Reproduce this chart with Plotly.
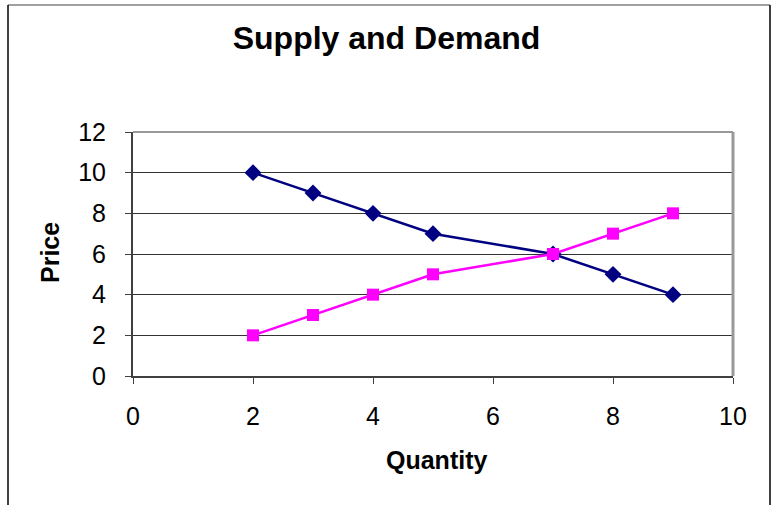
import plotly.graph_objects as go

demand_qty = [2, 3, 4, 5, 7, 8, 9]
demand_price = [10, 9, 8, 7, 6, 5, 4]
supply_qty = [2, 3, 4, 5, 7, 8, 9]
supply_price = [2, 3, 4, 5, 6, 7, 8]
x_ticks = [0, 2, 4, 6, 8, 10]
y_ticks = [0, 2, 4, 6, 8, 10, 12]

W, H = 773, 505
L, R, T, B = 133, 733, 132, 376

def px(x):
    return (x - L) / (R - L)

def py(y):
    return (B - y) / (B - T)

fig = go.Figure()
fig.add_trace(go.Scatter(
    x=demand_qty, y=demand_price, mode="lines+markers", name="Demand",
    line=dict(color="#000080", width=2.5),
    marker=dict(symbol="diamond", size=13, color="#000080"),
    cliponaxis=False,
))
fig.add_trace(go.Scatter(
    x=supply_qty, y=supply_price, mode="lines+markers", name="Supply",
    line=dict(color="#FF00FF", width=2.5),
    marker=dict(symbol="square", size=12, color="#FF00FF"),
    cliponaxis=False,
))

font = "Liberation Sans, Arial, sans-serif"

fig.update_layout(
    width=W, height=H,
    margin=dict(l=L, r=W - R, t=T, b=H - B, pad=0),
    paper_bgcolor="white", plot_bgcolor="white",
    showlegend=False,
    font=dict(family=font, size=25, color="black"),
    title=dict(text="<b>Supply and Demand</b>", x=0.5, xref="container",
               xanchor="center", y=1 - 38 / H, yref="container", yanchor="middle",
               font=dict(family=font, size=32, color="black")),
    xaxis=dict(range=[0, 10], tickvals=x_ticks, showgrid=False, zeroline=False,
               showline=True, linecolor="#404040", linewidth=2,
               ticks="outside", ticklen=6, tickcolor="#404040", tickwidth=1,
               ticklabelstandoff=11, tickfont=dict(size=25)),
    yaxis=dict(range=[0, 12], tickvals=y_ticks, showgrid=True, gridcolor="#333333",
               gridwidth=1, zeroline=False,
               showline=True, linecolor="#404040", linewidth=2,
               ticks="outside", ticklen=6, tickcolor="#404040", tickwidth=1,
               ticklabelstandoff=14, tickfont=dict(size=25)),
)

# plot area top/right border (gray)
fig.add_shape(type="line", xref="paper", yref="paper", x0=0, x1=1, y0=1, y1=1,
              line=dict(color="#999999", width=2))
fig.add_shape(type="line", xref="paper", yref="paper", x0=1, x1=1, y0=0, y1=1,
              line=dict(color="#999999", width=3))

# outer chart border
fig.add_shape(type="line", xref="paper", yref="paper", x0=px(8), x1=px(770),
              y0=py(5), y1=py(5), line=dict(color="#808080", width=1.5))
fig.add_shape(type="line", xref="paper", yref="paper", x0=px(8), x1=px(8),
              y0=py(5), y1=py(520), line=dict(color="black", width=1.5))
fig.add_shape(type="line", xref="paper", yref="paper", x0=px(770), x1=px(770),
              y0=py(5), y1=py(520), line=dict(color="black", width=1.5))

fig.add_annotation(text="<b>Quantity</b>", xref="paper", yref="paper",
                   x=px(436), y=py(460), xanchor="center", yanchor="middle",
                   showarrow=False, font=dict(family=font, size=25, color="black"))
fig.add_annotation(text="<b>Price</b>", xref="paper", yref="paper",
                   x=px(50), y=py(253), xanchor="center", yanchor="middle",
                   textangle=-90, showarrow=False,
                   font=dict(family=font, size=25, color="black"))

fig.write_html("out.html", config={"displayModeBar": False},
               post_script="document.body.style.margin='0';document.body.style.overflow='hidden';")
